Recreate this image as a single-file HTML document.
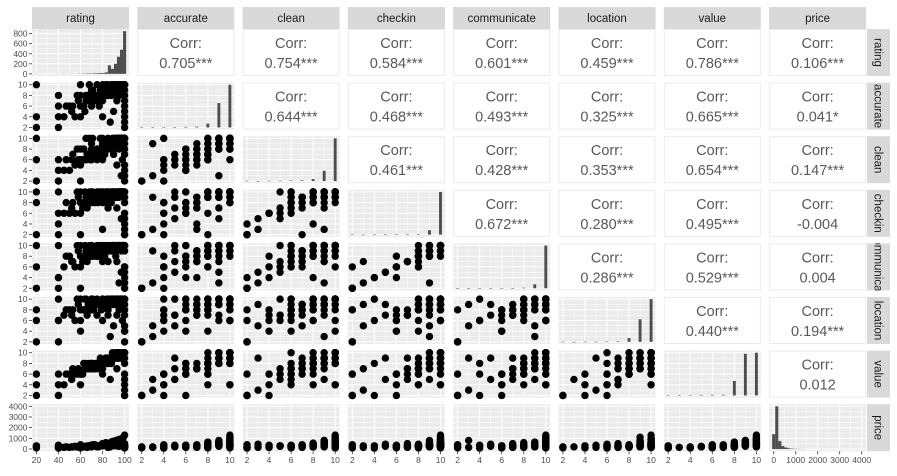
<!DOCTYPE html>
<html><head><meta charset="utf-8"><style>
html,body{margin:0;padding:0;background:#fff;width:897px;height:476px;overflow:hidden}
svg{display:block;font-family:"Liberation Sans",Arial,sans-serif}
</style></head><body>
<svg id="chart" width="897" height="476" viewBox="0 0 897 476"></svg>
<script>
const varNames=['rating','accurate','clean','checkin','communicate','location','value','price'];
const ratingVals=[20,20,20,40,40,40,40,47,50,53,55,60,60,60,60,65,67,70,70,73,75,77,80,80,80,82,83,85,85,87,88,90,90,90,92,93,93,95,95,96,97,98,100,100,100,100,98,95,92,88,85,80,75,70,65,68,57,63,100,100,
100,99,97,94,91,89,86,84,81,79,76,74,72,69,66,62,58,100,100,93,90,87,97,80,95,85,78,92,99,96,83,71,64,52,45,100,100,98,94,89];
const accurateVals=[2,4,10,2,6,8,4,6,6,6,4,6,10,8,4,7,8,6,8,7,8,6,8,9,4,8,9,9,10,9,8,9,10,9,10,9,10,10,10,10,10,10,10,10,9,2,10,8,9,10,8,10,10,9,8,10,8,6,6,4,
10,9,9,10,9,9,9,8,8,8,7,8,7,7,7,6,7,3,5,7,5,3,9,7,9,9,9,8,10,9,10,9,5,5,4,7,8,10,10,10];
const cleanVals=[2,6,10,2,4,6,2,6,4,7,5,5,8,6,2,6,7,6,8,7,6,8,8,8,6,7,9,8,9,9,9,9,10,8,9,10,10,10,9,10,10,10,10,10,10,2,6,8,10,8,10,10,8,9,10,10,8,8,4,10,
9,9,10,9,9,8,9,9,8,7,8,7,7,6,7,6,6,3,5,5,7,9,3,9,9,9,10,9,10,10,9,10,6,6,4,8,7,10,10,10];
const checkinVals=[2,8,10,2,6,10,4,8,6,8,6,10,8,6,2,8,9,8,10,8,9,10,9,10,8,9,10,9,10,10,10,10,10,9,10,10,9,10,10,10,10,10,10,10,10,2,10,10,9,8,10,10,10,10,9,10,10,8,6,8,
9,10,10,10,10,10,9,10,9,9,8,9,9,8,7,7,9,3,5,7,9,9,5,3,9,7,10,9,10,10,8,10,10,7,6,4,2,10,10,10];
const communicateVals=[2,6,10,2,4,10,4,8,8,7,6,10,8,6,2,8,9,8,10,9,8,10,10,10,8,8,10,9,10,10,9,10,10,10,10,10,10,10,10,10,10,10,10,10,10,2,10,10,9,9,10,10,10,10,9,10,10,8,6,6,
9,10,9,10,10,10,10,9,9,9,8,8,9,8,7,7,9,3,5,7,9,9,5,7,3,7,10,8,10,10,10,8,10,7,6,4,6,10,10,10];
const locationVals=[2,8,6,2,6,10,6,8,8,8,6,10,6,4,8,8,9,10,8,9,7,9,10,6,10,9,9,10,8,10,9,9,10,10,9,10,10,10,9,10,10,10,10,10,10,2,6,8,10,10,10,10,10,10,10,8,10,8,4,4,
9,9,10,10,9,9,9,10,9,8,9,9,8,8,7,8,9,5,7,7,5,3,9,9,9,7,9,10,9,10,9,10,10,7,7,10,8,10,10,10];
const valueVals=[2,6,4,2,6,4,2,6,6,7,6,6,4,6,6,7,7,7,8,7,8,8,8,8,6,8,9,8,9,9,8,9,9,9,9,9,10,10,9,10,10,10,10,10,10,2,10,10,10,8,8,8,8,8,8,8,6,8,2,4,
9,10,9,9,9,9,9,8,8,8,7,8,7,7,7,6,7,3,5,7,9,5,9,7,9,9,9,9,10,10,9,8,7,5,4,8,6,10,10,10];
const priceVals=[150,300,100,200,350,120,80,200,150,180,250,300,200,100,400,250,300,350,200,400,300,250,500,450,300,350,600,400,300,500,650,700,450,350,800,550,300,900,650,400,700,1000,1300,200,500,100,300,250,600,450,150,350,200,300,250,300,180,220,300,100,
400,450,350,600,300,550,250,350,400,300,200,250,300,200,150,180,200,150,250,300,350,200,450,300,800,500,350,600,1100,750,300,400,250,200,150,300,200,900,500,700];
const ratingCounts=[3,0,0,0,0,0,0,2,0,3,0,2,2,0,3,4,5,8,6,10,12,15,15,30,170,100,200,340,480,850];
const accurateCounts=[2,0,3,2,4,5,25,160,280];
const cleanCounts=[2,0,2,2,4,5,15,80,330];
const checkinCounts=[2,0,1,1,2,2,5,40,380];
const communicateCounts=[2,0,1,1,1,2,5,35,380];
const locationCounts=[1,0,1,1,2,3,30,180,340];
const valueCounts=[2,2,2,2,3,3,70,200,205];
const priceCounts=[300,860,160,60,30,15,8,5,3,2,2,0,0,0,0,0,0,0,0,0,0,0,0,0,0,0,0,0,0,1];
const corrValues=[
[null,'0.705***','0.754***','0.584***','0.601***','0.459***','0.786***','0.106***'],
[null,null,'0.644***','0.468***','0.493***','0.325***','0.665***','0.041*'],
[null,null,null,'0.461***','0.428***','0.353***','0.654***','0.147***'],
[null,null,null,null,'0.672***','0.280***','0.495***','-0.004'],
[null,null,null,null,null,'0.286***','0.529***','0.004'],
[null,null,null,null,null,null,'0.440***','0.194***'],
[null,null,null,null,null,null,null,'0.012']];
const discreteTicks=[2,4,6,8,10];
const ratingTicks=[20,40,60,80,100];
const priceTicks=[0,1000,2000,3000,4000];
const countTicks=[0,200,400,600,800];

const dataCols=[ratingVals,accurateVals,cleanVals,checkinVals,communicateVals,locationVals,valueVals,priceVals];
const countCols=[ratingCounts,accurateCounts,cleanCounts,checkinCounts,communicateCounts,locationCounts,valueCounts,priceCounts];
const NS='http://www.w3.org/2000/svg';
const svgEl=document.getElementById('chart');
function mk(tag,attrs,parent){const e=document.createElementNS(NS,tag);for(const k in attrs)e.setAttribute(k,attrs[k]);(parent||svgEl).appendChild(e);return e;}
const X0=32,PW=97,XP=105.3,Y0=29,PH=47,YP=53.6;
function colL(j){return X0+j*XP;}
function rowT(i){return Y0+i*YP;}
function dom(v){if(v===0)return[16,104];if(v===7)return[-210,4200];return[1.6,10.4];}
function ticks(v){if(v===0)return ratingTicks;if(v===7)return priceTicks;return discreteTicks;}
function minorTicks(v){const t=ticks(v);const m=[];for(let k=0;k<t.length-1;k++)m.push((t[k]+t[k+1])/2);return m;}
function sx(j,val){const d=dom(j);return colL(j)+(val-d[0])/(d[1]-d[0])*PW;}
function sy(i,val){const d=dom(i);return rowT(i)+PH-(val-d[0])/(d[1]-d[0])*PH;}
function grid(i,j,yt,ym,ysc,g){
  const x=colL(j),y=rowT(i);
  mk('rect',{x:x,y:y,width:PW,height:PH,fill:'#EBEBEB'},g);
  minorTicks(j).forEach(t=>mk('line',{x1:sx(j,t),x2:sx(j,t),y1:y,y2:y+PH,stroke:'#fff','stroke-width':0.5},g));
  ym.forEach(t=>mk('line',{x1:x,x2:x+PW,y1:ysc(t),y2:ysc(t),stroke:'#fff','stroke-width':0.5},g));
  ticks(j).forEach(t=>mk('line',{x1:sx(j,t),x2:sx(j,t),y1:y,y2:y+PH,stroke:'#fff','stroke-width':1},g));
  yt.forEach(t=>mk('line',{x1:x,x2:x+PW,y1:ysc(t),y2:ysc(t),stroke:'#fff','stroke-width':1},g));
}
for(let i=0;i<8;i++){
  for(let j=0;j<8;j++){
    const g=mk('g',{});
    const x=colL(j),y=rowT(i);
    if(j>i){
      
      
      mk('rect',{x:x+0.5,y:y+0.5,width:PW-1,height:PH-1,fill:'#fff',stroke:'#EBEBEB'},g);
      const t1=mk('text',{x:x+PW/2,y:y+19,'text-anchor':'middle','font-size':14.5,fill:'#595959'},g);t1.textContent='Corr:';
      const t2=mk('text',{x:x+PW/2,y:y+39,'text-anchor':'middle','font-size':14.5,fill:'#595959'},g);t2.textContent=corrValues[i][j];
    } else if(j===i){
      
      
      const c=countCols[i];const mx=Math.max(...c);
      const cy=v=>y+PH-(v+mx*0.05)/(mx*1.1)*PH;
      let yt,ym;
      if(i===0){yt=countTicks;ym=[100,300,500,700];}else{yt=[0,0.25,0.5,0.75,1].map(f=>f*mx);ym=[0.125,0.375,0.625,0.875].map(f=>f*mx);}
      grid(i,j,yt,ym,cy,g);
      if(i===0){
        const bw=(100-20)/(c.length-1);
        c.forEach((v,k)=>{const c0=20+(k-0.5)*bw;const xa=sx(0,c0),xb=sx(0,c0+bw);const b=mk('rect',{x:xa,y:cy(v),width:xb-xa,height:cy(0)-cy(v),fill:'#4d4d4d'},g);
          });
      } else if(i===7){
        const bw=140;
        c.forEach((v,k)=>{const c0=k*bw-70;const xa=sx(7,c0),xb=sx(7,c0+bw);const b=mk('rect',{x:xa,y:cy(v),width:xb-xa,height:cy(0)-cy(v),fill:'#4d4d4d'},g);
          });
      } else {
        c.forEach((v,k)=>{const val=2+k;const xa=sx(j,val-0.13),xb=sx(j,val+0.13);const b=mk('rect',{x:xa,y:cy(v),width:xb-xa,height:Math.max(0.5,cy(0)-cy(v)),fill:'#4d4d4d'},g);
          });
      }
    } else {
      
      
      grid(i,j,ticks(i),minorTicks(i),v=>sy(i,v),g);
      const xs=dataCols[j],ys=dataCols[i];
      for(let k=0;k<xs.length;k++){const p=mk('circle',{cx:sx(j,xs[k]),cy:sy(i,ys[k]),r:3.7,fill:'#000'},g);
        }
    }
  }
  const st=mk('g',{});
  
  
  mk('rect',{x:colL(i),y:7,width:PW,height:22,fill:'#D9D9D9'},st);
  const tt=mk('text',{x:colL(i)+PW/2,y:22,'text-anchor':'middle','font-size':11.5,fill:'#1a1a1a'},st);tt.textContent=varNames[i];
  const sr=mk('g',{});
  
  
  const cid='clip'+i;
  const cp=mk('clipPath',{id:cid},sr);mk('rect',{x:867,y:rowT(i),width:23,height:PH},cp);
  mk('rect',{x:867,y:rowT(i),width:23,height:PH,fill:'#D9D9D9'},sr);
  const rg=mk('g',{'clip-path':'url(#'+cid+')'},sr);
  const rt=mk('text',{x:0,y:0,'text-anchor':'middle','font-size':11.5,fill:'#1a1a1a',transform:'translate(874.5,'+(rowT(i)+PH/2)+') rotate(90)'},rg);rt.textContent=varNames[i];
}
for(let i=0;i<8;i++){
  const ya=mk('g',{});
  
  
  let tks,f;
  if(i===0){const mx=Math.max(...ratingCounts);tks=countTicks;f=v=>rowT(0)+PH-(v+mx*0.05)/(mx*1.1)*PH;}
  else{tks=ticks(i);f=v=>sy(i,v);}
  tks.forEach(t=>{const yy=f(t);mk('line',{x1:X0-3,x2:X0,y1:yy,y2:yy,stroke:'#333','stroke-width':0.8},ya);const tx=mk('text',{x:X0-4.5,y:yy+3,'text-anchor':'end','font-size':8.5,fill:'#4d4d4d'},ya);tx.textContent=t;});
}
for(let j=0;j<8;j++){
  const xa=mk('g',{});
  
  
  const yb=rowT(7)+PH;
  ticks(j).forEach(t=>{const xx=sx(j,t);mk('line',{x1:xx,x2:xx,y1:yb,y2:yb+3,stroke:'#333','stroke-width':0.8},xa);const tx=mk('text',{x:xx,y:yb+12,'text-anchor':'middle','font-size':8.5,fill:'#4d4d4d'},xa);tx.textContent=t;});
}
</script>
</body></html>
